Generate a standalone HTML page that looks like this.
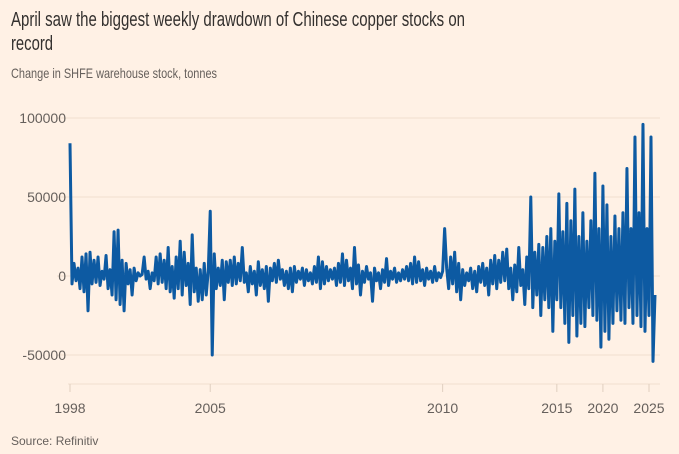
<!DOCTYPE html>
<html><head><meta charset="utf-8"><style>
html,body{margin:0;padding:0;background:#fff1e5;}
svg{display:block;font-family:"Liberation Sans",sans-serif;}
</style></head><body>
<svg id="chart" width="679" height="454" viewBox="0 0 679 454" xmlns="http://www.w3.org/2000/svg">
<rect width="679" height="454" fill="#fff1e5"/>
<text x="11" y="26" font-size="20" fill="#33302e" textLength="454" lengthAdjust="spacingAndGlyphs">April saw the biggest weekly drawdown of Chinese copper stocks on</text>
<text x="11" y="50" font-size="20" fill="#33302e" textLength="42" lengthAdjust="spacingAndGlyphs">record</text>
<text x="11" y="78" font-size="14" fill="#66605c" textLength="206" lengthAdjust="spacingAndGlyphs">Change in SHFE warehouse stock, tonnes</text>
<g id="grid"></g>
<g id="yaxis"></g>
<g id="xaxis"></g>
<path id="series" fill="none" stroke="#0d5aa2" stroke-width="3" stroke-linejoin="round"/>
<text x="11" y="445" font-size="12" fill="#66605c">Source: Refinitiv</text>
</svg>
<script>
// weekly change, thousands of tonnes
const seg1 = [84,-5,8,-3,5,-8,12,-10,14,-22,15,-5,10,-4,12,-6,3,-2,13,-8,
4,-12,28,-15,29,-18,10,-22,8,-5,4,-12,5,-3,2,0,1,12,-2,3,
-8,2,-3,12,-5,14,-4,10,-8,18,-10,6,-14,12,-8,22,-12,15,-6,8,
-18,26,-10,5,-16,4,-15,8,-12,3];
const seg2 = [41,-50,14,-8,5,-6,10,-15,9,-4,10,-6,12,-5,8,-3,18,-4,2,-10,
6,-5,3,-12,9,-6,4,-8,6,-16,5,-3,8,-4,10,-2,4,-6,3,-8,
5,-10,6,-4,3,-2,5,-6,4,-3,2,-5,6,-4,12,-8,9,-5,6,-3,
4,-2,5,-6,8,-4,14,-6,10,-3,5,-8,18,-5,7,-12,3,-4,6,-2,
2,-16,5,-3,2,-8,4,-4,11,-6,3,-2,5,-4,2,-3,4,-2,6,-3,
8,-5,12,-4,9,-3,4,-6,5,-2,3,-4,6,-3,2,-1];
const seg3 = [3,30,5,-8,12,-5,15,-10,8,-15,4,-6,2,-3,5,-8,3,-10,6,-4,
8,-6,5,-12,10,-5,13,-8,10,-4,15,-3,17,-8,5,-15,7,-10,18,-6,
4,-18,12,-8,50,-20,15,-12,20,-25,18,-15,25,-20,30,-35,22,-15,52,-20,
28,-30,46,-42,35,-25,
55,-38,25,-30,40,-32,22,-20,35,-25,65,-28,30,-45,57,-35,45,-40,25,-30,38,-22,30,-28,40,-30,68,-20,30,-30,88,-25,40,-32,96,-35,30,-25,88,-54,-12];
const values = seg1.concat(seg2, seg3).map(v => v * 1000);
const yTicks = [100000, 50000, 0, -50000];
const xTickLabels = ["1998", "2005", "2010", "2015", "2020", "2025"];
const xTickIndex = [0, 70, 186, 243, 266, 289];

const X0 = 70, X1 = 655;
const xScale = i => X0 + i * (X1 - X0) / (values.length - 1);
const yScale = v => 276 - v * (79 / 50000);
const NS = "http://www.w3.org/2000/svg";

const grid = document.getElementById('grid');
const yax = document.getElementById('yaxis');
yTicks.forEach(t => {
  const l = document.createElementNS(NS, 'line');
  l.setAttribute('x1', 57); l.setAttribute('x2', 660);
  l.setAttribute('y1', yScale(t)); l.setAttribute('y2', yScale(t));
  l.setAttribute('stroke', '#f2dfce'); l.setAttribute('stroke-width', '1');
  
  
  grid.appendChild(l);
  const tx = document.createElementNS(NS, 'text');
  tx.setAttribute('x', 66); tx.setAttribute('y', yScale(t) + 5);
  tx.setAttribute('text-anchor', 'end'); tx.setAttribute('font-size', '14');
  tx.setAttribute('fill', '#66605c');
  tx.textContent = String(t);
  
  
  yax.appendChild(tx);
});

const xax = document.getElementById('xaxis');
const base = document.createElementNS(NS, 'line');
base.setAttribute('x1', 68); base.setAttribute('x2', 660);
base.setAttribute('y1', 384); base.setAttribute('y2', 384);
base.setAttribute('stroke', '#f2dfce');


xax.appendChild(base);
xTickLabels.forEach((lab, k) => {
  const x = xScale(xTickIndex[k]);
  const tk = document.createElementNS(NS, 'line');
  tk.setAttribute('x1', x); tk.setAttribute('x2', x);
  tk.setAttribute('y1', 384); tk.setAttribute('y2', 392);
  tk.setAttribute('stroke', '#e0cfc0');
  
  
  xax.appendChild(tk);
  const tx = document.createElementNS(NS, 'text');
  tx.setAttribute('x', x); tx.setAttribute('y', 413);
  tx.setAttribute('text-anchor', 'middle'); tx.setAttribute('font-size', '14');
  tx.setAttribute('fill', '#66605c');
  tx.textContent = lab;
  
  
  xax.appendChild(tx);
});

let d = '';
values.forEach((v, i) => { d += (i ? 'L' : 'M') + xScale(i).toFixed(2) + ',' + yScale(v).toFixed(2); });
document.getElementById('series').setAttribute('d', d);
</script>
</body></html>
